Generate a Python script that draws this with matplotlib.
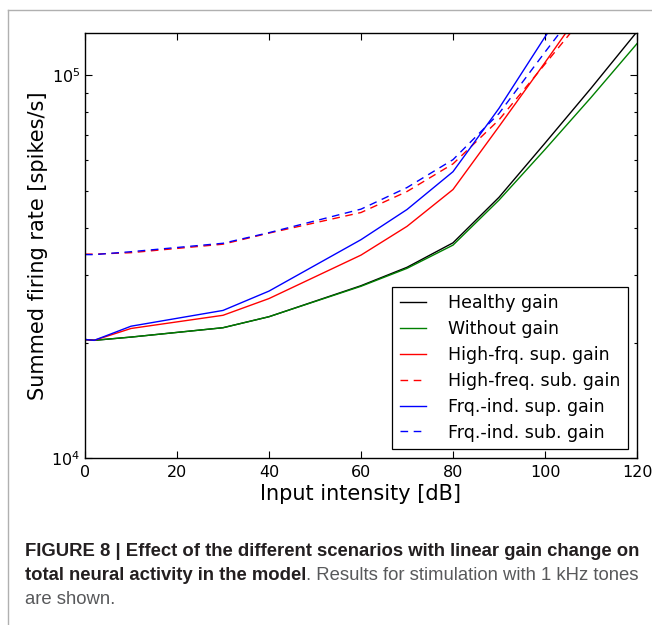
import matplotlib
matplotlib.use("Agg")
import matplotlib.pyplot as plt
from matplotlib.lines import Line2D
from matplotlib import font_manager

# input intensity (dB) and summed firing rates (spikes/s)
x_db = [0, 2, 10, 30, 40, 60, 70, 80, 90, 100, 110, 120]
healthy = [2.04e4, 2.03e4, 2.07e4, 2.19e4, 2.34e4, 2.82e4, 3.15e4, 3.65e4, 4.80e4, 6.65e4, 9.25e4, 1.30e5]
without = [2.04e4, 2.03e4, 2.07e4, 2.19e4, 2.34e4, 2.81e4, 3.13e4, 3.60e4, 4.72e4, 6.40e4, 8.75e4, 1.21e5]
hf_sup = [2.04e4, 2.03e4, 2.18e4, 2.36e4, 2.61e4, 3.39e4, 4.03e4, 5.03e4, 7.35e4, 1.08e5, 1.60e5, 2.30e5]
hf_sub = [3.41e4, 3.41e4, 3.44e4, 3.62e4, 3.87e4, 4.38e4, 4.97e4, 5.87e4, 7.65e4, 1.07e5, 1.50e5, 2.10e5]
fi_sup = [2.04e4, 2.03e4, 2.21e4, 2.43e4, 2.73e4, 3.72e4, 4.46e4, 5.60e4, 8.20e4, 1.26e5, 1.90e5, 2.80e5]
fi_sub = [3.40e4, 3.40e4, 3.46e4, 3.64e4, 3.88e4, 4.47e4, 5.09e4, 6.02e4, 7.95e4, 1.15e5, 1.65e5, 2.35e5]

labels = ["Healthy gain", "Without gain", "High-frq. sup. gain",
          "High-freq. sub. gain", "Frq.-ind. sup. gain", "Frq.-ind. sub. gain"]

caption_bold_1 = "FIGURE 8 | Effect of the different scenarios with linear gain change on"
caption_bold_2 = "total neural activity in the model"
caption_norm_2 = ". Results for stimulation with 1 kHz tones"
caption_norm_3 = "are shown."


def cap_font():
    # narrow sans for the journal caption, if we have it
    try:
        font_manager.findfont("Liberation Sans Narrow", fallback_to_default=False)
        return "Liberation Sans Narrow"
    except Exception:
        return "Liberation Sans"


fig = plt.figure(figsize=(6.52, 6.25), dpi=100)
ax = fig.add_axes([85 / 652, 1 - 458 / 625, 552 / 652, 425 / 625])

dash = (5.5, 4.0)
ax.plot(x_db, healthy, color="k", lw=1.0, label=labels[0])
ax.plot(x_db, without, color="g", lw=1.0, label=labels[1])
ax.plot(x_db, hf_sup, color="r", lw=1.0, label=labels[2])
ax.plot(x_db, hf_sub, color="r", lw=1.0, ls="--", dashes=dash, label=labels[3])
ax.plot(x_db, fi_sup, color="b", lw=1.0, label=labels[4])
ax.plot(x_db, fi_sub, color="b", lw=1.0, ls="--", dashes=dash, label=labels[5])

ax.set_yscale("log")
ax.set_xlim(0, 120)
ax.set_ylim(1e4, 1.29e5)
ax.set_xticks([0, 20, 40, 60, 80, 100, 120])
ax.tick_params(which="both", direction="in", top=True, right=True, labelsize=11.5)
ax.tick_params(which="major", length=5, width=0.8)
ax.tick_params(which="minor", length=2.5, width=0.8)
ax.tick_params(axis="x", pad=5)
for s in ax.spines.values():
    s.set_linewidth(1.0)

ax.set_xlabel("Input intensity [dB]", fontsize=15, labelpad=3)
ax.set_ylabel("Summed firing rate [spikes/s]", fontsize=15, labelpad=2)

leg = ax.legend(loc="lower right", fontsize=12.5, fancybox=False, framealpha=1,
                edgecolor="k", handlelength=1.5, handletextpad=1.3,
                labelspacing=0.45, borderpad=0.45, borderaxespad=0.5)
leg.get_frame().set_linewidth(0.9)

# thin grey frame of the journal page
fig.add_artist(Line2D([8 / 652, 1], [1 - 10 / 625] * 2, color="#b0b0b0", lw=1.0))
fig.add_artist(Line2D([8 / 652] * 2, [0, 1 - 10 / 625], color="#b0b0b0", lw=1.0))

# caption, sized so the first bold line fills the column width
cf = cap_font()
fs = 14
t1 = fig.text(25 / 652, 1 - 556 / 625, caption_bold_1, fontsize=fs, family=cf,
              weight="bold", color="#231f20", va="baseline")
fig.canvas.draw()
w = t1.get_window_extent().width
fs = fs * 618 / w
t1.set_fontsize(fs)
t2 = fig.text(25 / 652, 1 - 580 / 625, caption_bold_2, fontsize=fs, family=cf,
              weight="bold", color="#231f20", va="baseline")
fig.canvas.draw()
bb = t2.get_window_extent()
fig.text(bb.x1 / fig.bbox.width, 1 - 580 / 625, caption_norm_2, fontsize=fs,
         family=cf, color="#58595b", va="baseline")
fig.text(25 / 652, 1 - 604 / 625, caption_norm_3, fontsize=fs, family=cf,
         color="#58595b", va="baseline")

fig.savefig("out.png", dpi=100)
plt.close(fig)
